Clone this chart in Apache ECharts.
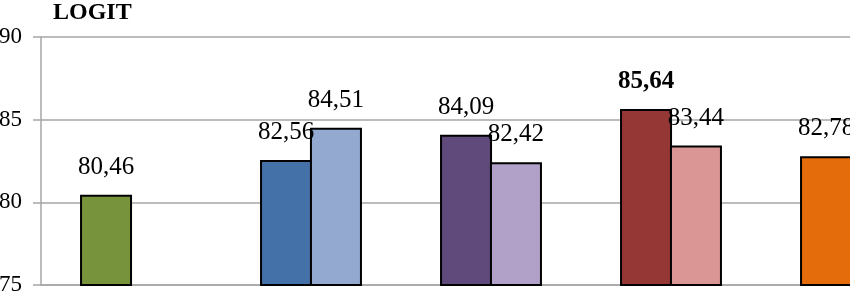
<!DOCTYPE html>
<html><head><meta charset="utf-8">
<script src="https://cdn.jsdelivr.net/npm/echarts@6/dist/echarts.min.js"></script>
<style>html,body{margin:0;padding:0;background:#fff}#c{width:850px;height:292px}</style>
</head><body><div id="c"></div>
<script>
const categories = ['G1', 'G2', 'G3', 'G4', 'G5'];
const seriesA = [80.46, 82.56, 84.09, 85.64, 82.78];
const seriesB = [null, 84.51, 82.42, 83.44, null];
const colorsA = ['#77933C', '#4471A7', '#5F4A7B', '#953735', '#E46C0A'];
const colorsB = ['#93A9CF', '#93A9CF', '#B1A0C7', '#D99694', '#F9B074'];
const boldA = [false, false, false, true, false];
const yTicks = [75, 80, 85, 90];

const fmt = v => v.toFixed(2).replace('.', ',');
const FONT = 'Liberation Serif';

const chart = echarts.init(document.getElementById('c'));
function mk(vals, cols, bolds) {
  return vals.map((v, i) => v == null ? null : ({
    value: v,
    itemStyle: { color: cols[i] },
    label: bolds && bolds[i] ? { fontWeight: 'bold' } : undefined
  }));
}
chart.setOption({
  animation: false,
  title: { text: 'LOGIT', left: 48, top: -4, textStyle: { fontFamily: FONT, fontSize: 24, fontWeight: 'bold', color: '#000' } },
  grid: { left: 41, top: 37, bottom: 7, width: 900, containLabel: false, outerBoundsMode: 'none' },
  xAxis: {
    type: 'category', data: categories,
    axisLine: { lineStyle: { color: '#a6a6a6', width: 1.5 } },
    axisTick: { show: false }, axisLabel: { show: false }
  },
  yAxis: {
    type: 'value', min: 75, max: 90, interval: 5,
    axisLine: { show: true, lineStyle: { color: '#a6a6a6', width: 1.5 } },
    axisTick: { show: true, length: 8, lineStyle: { color: '#a6a6a6', width: 1.5 } },
    splitLine: { lineStyle: { color: '#a6a6a6', width: 1.5 } },
    axisLabel: { margin: 19, fontFamily: FONT, fontSize: 23, color: '#000', verticalAlign: 'middle', padding: [0, 0, 4, 0],
      formatter: v => yTicks.includes(v) ? String(v) : '' }
  },
  series: [
    { type: 'bar', data: mk(seriesA, colorsA, boldA), barWidth: 52, barGap: '-4%',
      itemStyle: { borderColor: '#000', borderWidth: 2 },
      label: { show: true, position: 'top', distance: 15, fontFamily: FONT, fontSize: 25, color: '#000', formatter: p => fmt(p.value) } },
    { type: 'bar', data: mk(seriesB, colorsB, null), barWidth: 52, barGap: '-4%',
      itemStyle: { borderColor: '#000', borderWidth: 2 },
      label: { show: true, position: 'top', distance: 15, fontFamily: FONT, fontSize: 25, color: '#000', formatter: p => fmt(p.value) } }
  ]
});
</script></body></html>
